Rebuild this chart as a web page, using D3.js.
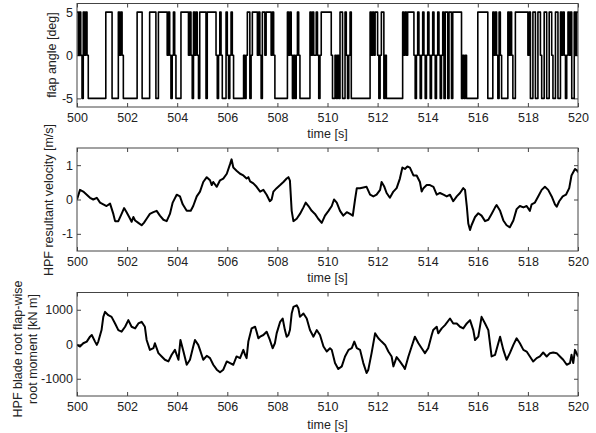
<!DOCTYPE html>
<html><head><meta charset="utf-8">
<script src="https://cdn.jsdelivr.net/npm/d3@7"></script>
<style>
body{margin:0;background:#fff}
svg{display:block}
text{font-family:"Liberation Sans",Arial,sans-serif;fill:#222}
</style>
</head><body><svg id="c" width="596" height="433"></svg>
<script>
// ---------- data ----------
const xTicks = [500,502,504,506,508,510,512,514,516,518,520];
const flapTicks = [-5,0,5];
const velTicks = [-1,0,1];
const momTicks = [-1000,0,1000];
const flapLevels = {H:5, Z:0, L:-5};
const flapSegments = [
 [500.00,500.45,"HZHZLHZHZ"],[500.45,501.15,"L"],[501.15,501.40,"H"],[501.40,501.65,"L"],
 [501.65,501.85,"HZHZ"],[501.85,502.40,"L"],[502.40,502.60,"H"],[502.60,502.90,"L"],
 [502.90,503.15,"H"],[503.15,503.25,"L"],[503.25,503.55,"H"],[503.55,503.95,"HZHZLZHZ"],
 [503.95,504.15,"L"],[504.15,504.40,"H"],[504.40,504.90,"HZHZLHZHZL"],[504.90,505.50,"HHHHHLHHHHHH"],
 [505.50,505.80,"HZLZHZ"],[505.80,505.95,"L"],[505.95,506.30,"HZLZHZL"],[506.30,506.60,"L"],
 [506.60,507.00,"LZLZHHLZ"],[507.00,507.20,"H"],[507.20,507.40,"ZHZL"],[507.40,507.70,"HHZHHH"],
 [507.70,508.00,"HZHZLL"],[508.00,508.40,"L"],[508.40,508.60,"HZHZ"],[508.60,508.90,"LZLZHZ"],
 [508.90,509.30,"L"],[509.30,509.50,"HZHZ"],[509.50,509.75,"ZHZLZ"],[509.75,510.25,"HHHHHHHHZL"],
 [510.25,510.50,"LZLZL"],[510.50,510.70,"HHLL"],[510.70,510.95,"HZLZH"],[510.95,511.70,"L"],
 [511.70,511.90,"HZHZ"],[511.90,512.40,"HHZLZHHLZL"],[512.40,513.00,"L"],[513.00,513.20,"HZHZ"],
 [513.20,513.40,"H"],[513.40,514.60,"HZLZHZLZHZLZHZLZHZLZHZLZ"],[514.60,515.00,"HLHHLHHL"],
 [515.00,515.35,"H"],[515.35,515.60,"LZLZL"],[515.60,516.00,"L"],[516.00,516.40,"H"],
 [516.40,516.60,"L"],[516.60,517.00,"HZHZLHZL"],[517.00,517.20,"L"],[517.20,517.55,"HZHZLLH"],
 [517.55,517.95,"H"],[517.95,520.00,"HZHLLHHLLHHZLLHHLLHHZLLHHLLHZHZLZHZHLLHZH"]
];
const velSeries = [
 [500.00,0],[500.12,0.28],[500.25,0.23],[500.39,0.14],[500.52,0.05],[500.65,0],[500.79,0.05],[500.92,-0.09],
 [501.05,-0.14],[501.18,-0.19],[501.32,-0.12],[501.45,-0.42],[501.52,-0.63],[501.65,-0.63],[501.78,-0.42],
 [501.88,-0.25],[501.98,-0.37],[502.12,-0.56],[502.18,-0.65],[502.25,-0.51],[502.32,-0.61],[502.45,-0.68],
 [502.58,-0.75],[502.67,-0.68],[502.78,-0.56],[502.91,-0.42],[503.05,-0.37],[503.18,-0.33],[503.31,-0.47],
 [503.45,-0.59],[503.58,-0.63],[503.71,-0.42],[503.82,-0.09],[503.98,0.14],[504.11,0.09],[504.22,-0.14],
 [504.38,-0.33],[504.54,-0.33],[504.64,-0.19],[504.78,0.09],[504.91,0.23],[505.04,0.51],[505.18,0.65],
 [505.31,0.56],[505.38,0.42],[505.44,0.51],[505.58,0.37],[505.71,0.56],[505.84,0.61],[505.98,0.75],
 [506.11,1.03],[506.17,1.17],[506.24,0.93],[506.37,0.84],[506.51,0.75],[506.64,0.70],[506.77,0.61],
 [506.84,0.65],[506.91,0.53],[507.04,0.47],[507.17,0.37],[507.31,0.23],[507.44,0.28],[507.57,0.14],
 [507.70,-0.05],[507.77,0],[507.84,0.23],[507.97,0.33],[508.11,0.42],[508.24,0.51],[508.37,0.61],
 [508.44,0.65],[508.50,0.55],[508.57,-0.33],[508.64,-0.63],[508.77,-0.56],[508.90,-0.42],[509.04,-0.23],
 [509.13,-0.09],[509.24,-0.19],[509.37,-0.33],[509.50,-0.42],[509.63,-0.56],[509.77,-0.68],[509.90,-0.47],
 [510.04,-0.33],[510.17,-0.19],[510.26,0],[510.37,-0.09],[510.50,-0.33],[510.63,-0.47],[510.77,-0.37],
 [510.90,-0.42],[511.01,-0.47],[511.10,0],[511.17,0.33],[511.30,0.33],[511.43,0.35],[511.56,0.37],
 [511.70,0.14],[511.83,0.09],[511.96,0.14],[512.10,0.28],[512.16,0.51],[512.27,0.37],[512.36,0.19],
 [512.49,0.05],[512.63,0.23],[512.76,0.33],[512.89,0.61],[512.99,0.93],[513.09,0.89],[513.19,0.96],
 [513.29,0.93],[513.43,0.70],[513.56,0.70],[513.69,0.51],[513.76,0.23],[513.83,0.33],[513.96,0.42],
 [514.09,0.42],[514.23,0.37],[514.36,0.14],[514.49,0.19],[514.63,0.14],[514.76,0.09],[514.89,0.14],
 [515.02,-0.05],[515.16,0.09],[515.29,0.19],[515.42,0.33],[515.49,0.28],[515.56,-0.19],[515.62,-0.70],
 [515.69,-0.89],[515.75,-0.75],[515.89,-0.51],[516.02,-0.40],[516.15,-0.47],[516.29,-0.63],[516.42,-0.59],
 [516.55,-0.42],[516.69,-0.23],[516.75,-0.16],[516.89,-0.33],[517.02,-0.61],[517.15,-0.75],[517.28,-0.81],
 [517.42,-0.61],[517.55,-0.28],[517.68,-0.19],[517.82,-0.23],[517.95,-0.19],[518.08,-0.33],[518.15,-0.14],
 [518.28,-0.09],[518.41,0.09],[518.55,0.28],[518.68,0.37],[518.81,0.28],[518.95,0.09],[519.08,-0.14],
 [519.15,-0.21],[519.25,-0.05],[519.39,0.09],[519.52,0.14],[519.65,0.33],[519.74,0.70],[519.88,0.89],
 [519.97,0.84],[520.00,0.79]
];
const momSeries = [
 [500.00,-19],[500.12,-67],[500.25,29],[500.39,77],[500.52,220],[500.59,268],[500.72,77],[500.79,-19],
 [500.85,77],[500.98,411],[501.05,794],[501.12,938],[501.25,842],[501.38,794],[501.52,603],[501.65,411],
 [501.78,364],[501.92,507],[502.05,699],[502.18,507],[502.32,459],[502.45,603],[502.58,651],[502.71,507],
 [502.78,124],[502.91,-163],[503.05,-115],[503.11,29],[503.25,-258],[503.38,-354],[503.51,-450],[503.65,-498],
 [503.78,-306],[503.91,-163],[504.05,-450],[504.13,124],[504.25,-211],[504.38,-594],[504.51,-450],[504.64,-67],
 [504.71,124],[504.84,-19],[504.91,-163],[505.04,-450],[505.18,-335],[505.31,-402],[505.44,-594],[505.58,-737],
 [505.71,-813],[505.84,-737],[505.98,-498],[506.11,-546],[506.24,-594],[506.37,-354],[506.51,-402],[506.64,-163],
 [506.71,-306],[506.77,-402],[506.84,77],[506.97,459],[507.11,507],[507.17,364],[507.24,172],[507.31,220],
 [507.44,268],[507.57,364],[507.70,124],[507.81,-115],[507.90,29],[507.97,316],[508.11,651],[508.21,746],
 [508.30,411],[508.37,220],[508.44,268],[508.50,411],[508.57,890],[508.64,1081],[508.77,1130],[508.84,1034],
 [508.90,794],[509.04,890],[509.17,746],[509.30,411],[509.44,220],[509.57,411],[509.70,268],[509.84,-67],
 [509.97,-211],[510.10,-115],[510.17,-163],[510.30,-546],[510.43,-718],[510.57,-641],[510.70,-354],[510.84,-163],
 [510.97,-115],[511.07,77],[511.17,-115],[511.30,-163],[511.43,-546],[511.56,-833],[511.63,-737],[511.76,-258],
 [511.90,316],[512.03,172],[512.16,77],[512.30,-19],[512.43,-211],[512.56,-354],[512.63,-641],[512.76,-373],
 [512.89,-498],[513.03,-641],[513.09,-718],[513.23,-354],[513.36,-67],[513.49,220],[513.63,29],[513.76,-115],
 [513.89,-258],[514.02,-115],[514.16,268],[514.22,411],[514.36,507],[514.42,316],[514.56,459],[514.69,555],
 [514.89,746],[515.02,603],[515.16,603],[515.29,507],[515.42,459],[515.56,603],[515.69,699],[515.82,411],
 [515.89,124],[516.02,220],[516.15,794],[516.29,603],[516.42,411],[516.55,-354],[516.69,-306],[516.89,220],
 [517.02,-163],[517.15,-450],[517.28,-258],[517.42,-19],[517.55,172],[517.68,29],[517.82,-163],[517.95,-211],
 [518.08,-354],[518.21,-498],[518.35,-402],[518.48,-354],[518.61,-239],[518.75,-354],[518.88,-258],[519.01,-239],
 [519.15,-258],[519.28,-354],[519.41,-450],[519.55,-594],[519.68,-546],[519.74,-306],[519.81,-546],[519.88,-163],
 [519.97,-306],[520.00,-354]
];

// ---------- build flap step series ----------
const flapSeries = [];
flapSegments.forEach(([t0,t1,pat]) => {
  const n = pat.length, dt = (t1 - t0) / n;
  for (let j = 0; j < n; j++) flapSeries.push([t0 + j*dt, flapLevels[pat[j]]]);
});
flapSeries.push([520, flapSeries[flapSeries.length-1][1]]);

// ---------- drawing ----------
const svg = d3.select("#c");
const X0 = 77, X1 = 578;
const x = d3.scaleLinear().domain([500,520]).range([X0,X1]);
const fmt = d => String(d);

function panel(top, bottom, domain, ticks, data, curve, sw, xTitleY){
  const y = d3.scaleLinear().domain(domain).range([bottom, top]);
  const g = svg.append("g");
  g.append("g").attr("transform",`translate(0,${top})`)
    .call(d3.axisTop(x).tickValues(xTicks).tickSizeInner(-4).tickSizeOuter(0).tickFormat(""));
  g.append("g").attr("transform",`translate(${X1},0)`)
    .call(d3.axisRight(y).tickValues(ticks).tickSizeInner(-4).tickSizeOuter(0).tickFormat(""));
  g.append("g").attr("transform",`translate(0,${bottom})`)
    .call(d3.axisBottom(x).tickValues(xTicks).tickSizeInner(-4).tickSizeOuter(0).tickPadding(6).tickFormat(fmt));
  g.append("g").attr("transform",`translate(${X0},0)`)
    .call(d3.axisLeft(y).tickValues(ticks).tickSizeInner(-4).tickSizeOuter(0).tickPadding(4).tickFormat(fmt));
  g.selectAll(".domain").remove();
  g.selectAll(".tick line").attr("stroke","#444");
  g.selectAll(".tick text").style("font-size","12.5px").attr("fill","#222");
  const clipId = "clip"+Math.round(top);
  svg.append("clipPath").attr("id",clipId).append("rect")
    .attr("x",X0).attr("y",top).attr("width",X1-X0).attr("height",bottom-top);
  g.append("path").datum(data)
    .attr("clip-path",`url(#${clipId})`)
    .attr("fill","none").attr("stroke","#000").attr("stroke-width",sw)
    .attr("stroke-linejoin","round")
    .attr("d", d3.line().x(d=>x(d[0])).y(d=>y(d[1])).curve(curve));
  g.append("rect").attr("x",X0).attr("y",top).attr("width",X1-X0).attr("height",bottom-top)
    .attr("fill","none").attr("stroke","#444").attr("stroke-width",1);
  g.append("text").attr("x",(X0+X1)/2).attr("y",xTitleY).attr("text-anchor","middle")
    .attr("dominant-baseline","central").style("font-size","12.5px").text("time [s]");
  return g;
}

panel(3.5,107,[-6,6],flapTicks,flapSeries,d3.curveStepAfter,1.6,134);
panel(148,251,[-1.5,1.5],velTicks,velSeries,d3.curveLinear,2,278);
panel(292.5,396,[-1500,1500],momTicks,momSeries,d3.curveLinear,2,425);

function yTitle(cx, cy, txt){
  svg.append("text").attr("transform",`translate(${cx},${cy}) rotate(-90)`)
    .attr("text-anchor","middle").attr("dominant-baseline","central")
    .style("font-size","12.5px").text(txt);
}
yTitle(52,55,"flap angle [deg]");
yTitle(49,200,"HPF resultant velocity [m/s]");
yTitle(18,349,"HPF blade root flap-wise");
yTitle(33,349,"root moment [kN m]");
</script>
</body></html>
